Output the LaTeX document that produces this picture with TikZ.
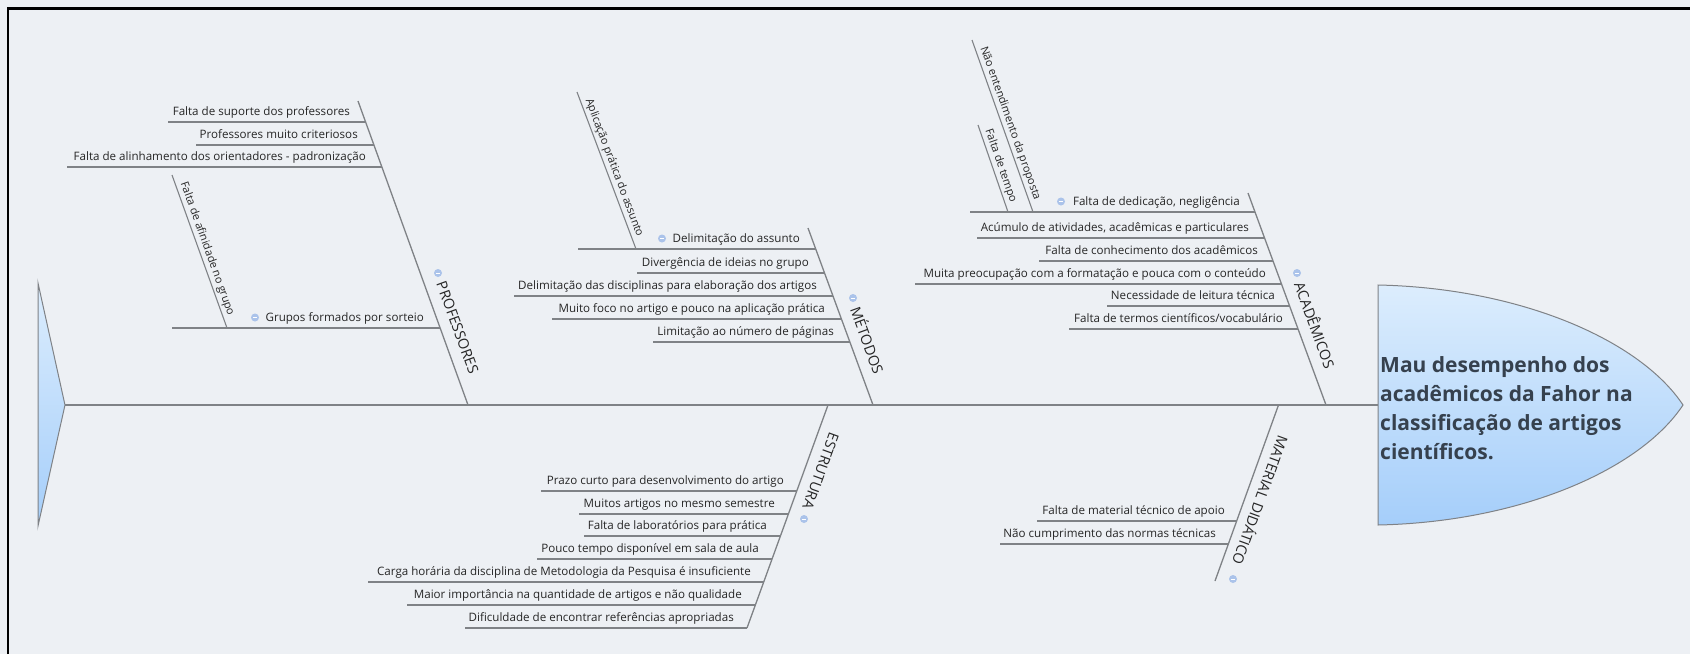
\documentclass[tikz,border=0pt]{standalone}
\usepackage{fontspec}
\setmainfont{Open Sans}
\usepackage{xcolor}
\usepackage{tikz}
\usetikzlibrary{calc}
\definecolor{paper}{HTML}{EDF0F4}
\definecolor{ink}{HTML}{262626}
\definecolor{bonegray}{HTML}{7F8286}
\definecolor{headtop}{HTML}{DCEDFD}
\definecolor{headbot}{HTML}{A5CEFA}
\definecolor{headtext}{HTML}{36414E}
\definecolor{toggle}{HTML}{ABC3EA}

\begin{document}
\begin{tikzpicture}[x=1pt,y=-1pt,
  bone/.style={line width=1.3pt,color=bonegray},
  twig/.style={line width=1.1pt,color=bonegray},
  cause/.style={anchor=base east,inner sep=0pt,font=\fontsize{11.6}{13}\selectfont,color=ink},
  side/.style={sloped,above=2pt,inner sep=0pt,font=\fontsize{11}{13}\selectfont,color=ink},
  lbl/.style={inner sep=0pt,font=\fontsize{14.5}{16}\selectfont,color=ink},
  tog/.style={circle,fill=toggle,inner sep=0pt,minimum size=8pt,
    path picture={\draw[white,line width=0.9pt]
      ([xshift=-2.3pt]path picture bounding box.center) -- ([xshift=2.3pt]path picture bounding box.center);}}]
  \useasboundingbox (0,0) rectangle (1690,654);
  \fill[paper] (0,0) rectangle (1690,654);
  \draw[black,line width=2.7pt] (8,654) -- (8,8.7) -- (1690,8.7);

  \coordinate (tail) at (65,405);
  \coordinate (headL) at (1378,405);
  \coordinate (headT) at (1378,285);
  \coordinate (headB) at (1378,525);
  \coordinate (headTip) at (1683,405);

  \shade[top color=headtop,bottom color=headbot,draw=bonegray,line width=1pt]
    (38,283) -- (tail) -- (38,526) -- cycle;
  \shade[top color=headtop,bottom color=headbot,draw=bonegray,line width=1pt]
    (headT) .. controls (1520,288) and (1640,340) .. (headTip)
    .. controls (1640,470) and (1520,522) .. (headB) -- cycle;
  \node[anchor=north west,align=left,inner sep=0pt,color=headtext,
    font=\bfseries\fontsize{21}{29}\selectfont] (effect) at (1380,356)
    {Mau desempenho dos\\acadêmicos da Fahor na\\classificação de artigos\\científicos.};

  \draw[line width=1.6pt,color=bonegray] (tail) -- (headL);

  \coordinate (profT) at (358,101);
  \coordinate (profS) at (468,405);
  \coordinate (metT) at (808,228);
  \coordinate (metS) at (873,405);
  \coordinate (acaT) at (1248,193);
  \coordinate (acaS) at (1326,405);
  \coordinate (estS) at (828,405);
  \coordinate (estB) at (747,628);
  \coordinate (matS) at (1278.5,405);
  \coordinate (matB) at (1215,581);
  \draw[bone] (profT) -- (profS);
  \draw[bone] (metT) -- (metS);
  \draw[bone] (acaT) -- (acaS);
  \draw[bone] (estS) -- (estB);
  \draw[bone] (matS) -- (matB);

  \node[tog] (profI) at (438,273) {};
  \node[lbl,rotate=-70,anchor=west] (profL) at (441,282) {PROFESSORES};
  \node[tog] (metI) at (853,298) {};
  \node[lbl,rotate=-70,anchor=west] (metL) at (856,307) {MÉTODOS};
  \node[tog] (acaI) at (1297,273) {};
  \node[lbl,rotate=-70,anchor=west] (acaL) at (1300,282) {ACADÊMICOS};
  \node[tog] (estI) at (804,519) {};
  \node[lbl,rotate=-110,anchor=east] (estL) at (807,509) {ESTRUTURA};
  \node[tog] (matI) at (1233,579) {};
  \node[lbl,rotate=-110,anchor=east] (matL) at (1238,565) {MATERIAL DIDÁTICO};

  \coordinate (pf1) at (168,122); \coordinate (pb1) at (366,122);
  \draw[twig] (pf1) -- (pb1);
  \node[cause] (pc1) at (350,115) {Falta de suporte dos professores};
  \coordinate (pf2) at (196,145); \coordinate (pb2) at (374,145);
  \draw[twig] (pf2) -- (pb2);
  \node[cause] (pc2) at (358,138) {Professores muito criteriosos};
  \coordinate (pf3) at (67,167); \coordinate (pb3) at (382,167);
  \draw[twig] (pf3) -- (pb3);
  \node[cause] (pc3) at (366,160) {Falta de alinhamento dos orientadores - padronização};
  \coordinate (pf4) at (172,328); \coordinate (pb4) at (440,328);
  \draw[twig] (pf4) -- (pb4);
  \node[cause] (pc4) at (424,321) {Grupos formados por sorteio};
  \node[tog] (pi4) at (255,317.5) {};
  \coordinate (pg1) at (172,175); \coordinate (pg2) at (227,328);
  \draw[twig] (pg1) -- node[side] (pd1) {Falta de afinidade no grupo} (pg2);

  \coordinate (mf1) at (578,249); \coordinate (mb1) at (816,249);
  \draw[twig] (mf1) -- (mb1);
  \node[cause] (mc1) at (800,242) {Delimitação do assunto};
  \node[tog] (mi1) at (662,238.5) {};
  \coordinate (mf2) at (637,273); \coordinate (mb2) at (825,273);
  \draw[twig] (mf2) -- (mb2);
  \node[cause] (mc2) at (809,266) {Divergência de ideias no grupo};
  \coordinate (mf3) at (514,296); \coordinate (mb3) at (833,296);
  \draw[twig] (mf3) -- (mb3);
  \node[cause] (mc3) at (817,289) {Delimitação das disciplinas para elaboração dos artigos};
  \coordinate (mf4) at (552,319); \coordinate (mb4) at (841,319);
  \draw[twig] (mf4) -- (mb4);
  \node[cause] (mc4) at (825,312) {Muito foco no artigo e pouco na aplicação prática};
  \coordinate (mf5) at (653,342); \coordinate (mb5) at (850,342);
  \draw[twig] (mf5) -- (mb5);
  \node[cause] (mc5) at (834,335) {Limitação ao número de páginas};
  \coordinate (mg1) at (577,92); \coordinate (mg2) at (636,249);
  \draw[twig] (mg1) -- node[side] (md1) {Aplicação prática do assunto} (mg2);

  \coordinate (af1) at (970,212); \coordinate (ab1) at (1255,212);
  \draw[twig] (af1) -- (ab1);
  \node[cause] (ac1) at (1240,205) {Falta de dedicação, negligência};
  \node[tog] (ai1) at (1061,201.5) {};
  \coordinate (af2) at (977,238); \coordinate (ab2) at (1264,238);
  \draw[twig] (af2) -- (ab2);
  \node[cause] (ac2) at (1249,231) {Acúmulo de atividades, acadêmicas e particulares};
  \coordinate (af3) at (1039,261); \coordinate (ab3) at (1273,261);
  \draw[twig] (af3) -- (ab3);
  \node[cause] (ac3) at (1258,254) {Falta de conhecimento dos acadêmicos};
  \coordinate (af4) at (915,284); \coordinate (ab4) at (1281,284);
  \draw[twig] (af4) -- (ab4);
  \node[cause] (ac4) at (1266,277) {Muita preocupação com a formatação e pouca com o conteúdo};
  \coordinate (af5) at (1107,306); \coordinate (ab5) at (1290,306);
  \draw[twig] (af5) -- (ab5);
  \node[cause] (ac5) at (1275,299) {Necessidade de leitura técnica};
  \coordinate (af6) at (1069,329); \coordinate (ab6) at (1298,329);
  \draw[twig] (af6) -- (ab6);
  \node[cause] (ac6) at (1283,322) {Falta de termos científicos/vocabulário};
  \coordinate (ag1) at (972,40); \coordinate (ag2) at (1033,212);
  \draw[twig] (ag1) -- node[side] (ad1) {Não entendimento da proposta} (ag2);
  \coordinate (ag3) at (978,125); \coordinate (ag4) at (1008,212);
  \draw[twig] (ag3) -- node[side] (ad2) {Falta de tempo} (ag4);

  \coordinate (ef1) at (541,491); \coordinate (eb1) at (797,491);
  \draw[twig] (ef1) -- (eb1);
  \node[cause] (ec1) at (784,484) {Prazo curto para desenvolvimento do artigo};
  \coordinate (ef2) at (579,514); \coordinate (eb2) at (788,514);
  \draw[twig] (ef2) -- (eb2);
  \node[cause] (ec2) at (775,507) {Muitos artigos no mesmo semestre};
  \coordinate (ef3) at (584,536); \coordinate (eb3) at (780,536);
  \draw[twig] (ef3) -- (eb3);
  \node[cause] (ec3) at (767,529) {Falta de laboratórios para prática};
  \coordinate (ef4) at (537,559); \coordinate (eb4) at (772,559);
  \draw[twig] (ef4) -- (eb4);
  \node[cause] (ec4) at (759,552) {Pouco tempo disponível em sala de aula};
  \coordinate (ef5) at (368,582); \coordinate (eb5) at (764,582);
  \draw[twig] (ef5) -- (eb5);
  \node[cause] (ec5) at (751,575) {Carga horária da disciplina de Metodologia da Pesquisa é insuficiente};
  \coordinate (ef6) at (407,605); \coordinate (eb6) at (755,605);
  \draw[twig] (ef6) -- (eb6);
  \node[cause] (ec6) at (742,598) {Maior importância na quantidade de artigos e não qualidade};
  \coordinate (ef7) at (465,628); \coordinate (eb7) at (747,628);
  \draw[twig] (ef7) -- (eb7);
  \node[cause] (ec7) at (734,621) {Dificuldade de encontrar referências apropriadas};

  \coordinate (df1) at (1037,521); \coordinate (db1) at (1237,521);
  \draw[twig] (df1) -- (db1);
  \node[cause] (dc1) at (1225,514) {Falta de material técnico de apoio};
  \coordinate (df2) at (1000,544); \coordinate (db2) at (1228,544);
  \draw[twig] (df2) -- (db2);
  \node[cause] (dc2) at (1216,537) {Não cumprimento das normas técnicas};
\end{tikzpicture}
\end{document}
